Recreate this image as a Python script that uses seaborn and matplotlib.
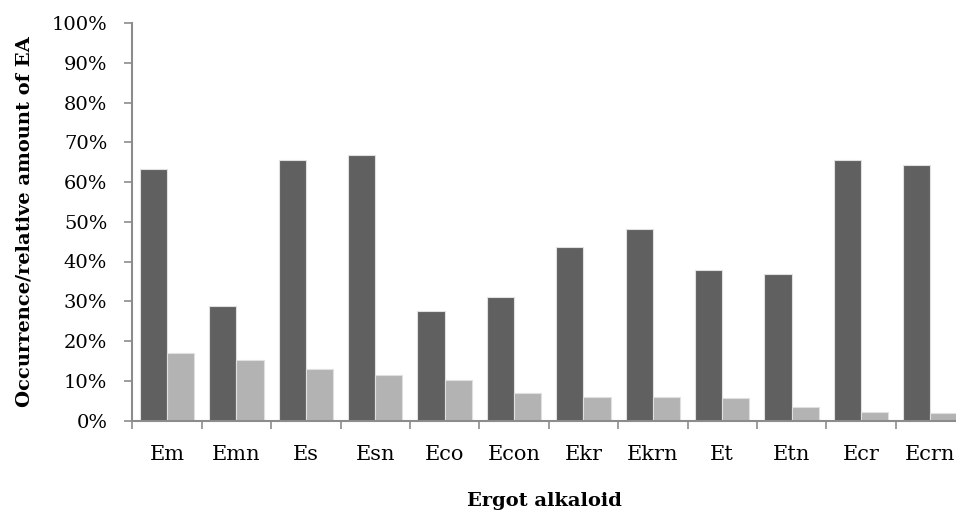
import numpy as np
import pandas as pd
import matplotlib
matplotlib.use("Agg")
import matplotlib.pyplot as plt
import seaborn as sns
from matplotlib.ticker import PercentFormatter, FixedLocator

alkaloids = ["Em", "Emn", "Es", "Esn", "Eco", "Econ", "Ekr", "Ekrn", "Et", "Etn", "Ecr", "Ecrn"]
occurrence = [63.2, 28.7, 65.5, 66.7, 27.5, 31.0, 43.6, 48.2, 37.9, 36.8, 65.5, 64.4]
relative_amount = [16.9, 15.2, 13.0, 11.4, 10.2, 7.0, 6.0, 5.8, 5.6, 3.3, 2.1, 1.8]

df = pd.DataFrame({
    "alkaloid": alkaloids * 2,
    "value": occurrence + relative_amount,
    "series": ["Occurrence"] * len(alkaloids) + ["Relative amount"] * len(alkaloids),
})

sns.set_style("white")
plt.rcParams['font.family'] = ['DejaVu Serif']
plt.rcParams['text.color'] = 'black'
plt.rcParams['axes.labelcolor'] = 'black'
plt.rcParams['xtick.labelcolor'] = 'black'
plt.rcParams['ytick.labelcolor'] = 'black'

fig = plt.figure(figsize=(9.56, 5.14), dpi=100)
ax = fig.add_axes([132.3 / 956, 93.5 / 514, (956 - 132.3) / 956, 397.5 / 514])

sns.barplot(data=df, x="alkaloid", y="value", hue="series", order=alkaloids,
            palette=["#606060", "#b3b3b3"], width=0.784, edgecolor="#e0e0e0",
            linewidth=0.8, legend=False, ax=ax)

ax.set_ylim(0, 100)
ax.set_xlim(-0.5, -0.5 + (956 - 132.3) / 69.4)
ax.yaxis.set_major_formatter(PercentFormatter(decimals=0))
ax.set_yticks(np.arange(0, 101, 10))

ax.xaxis.set_minor_locator(FixedLocator(np.arange(-0.5, 12, 1)))
ax.tick_params(axis="x", which="major", bottom=True, length=0, pad=18, labelsize=15)
ax.tick_params(axis="x", which="minor", bottom=True, length=6, width=1.2,
               color="#8c8c8c", direction="out")
ax.tick_params(axis="y", left=True, length=6, width=1.2, color="#8c8c8c",
               direction="out", labelsize=14, pad=12)

for side in ["top", "right"]:
    ax.spines[side].set_visible(False)
for side in ["left", "bottom"]:
    ax.spines[side].set_color("#8c8c8c")
    ax.spines[side].set_linewidth(1.5)

ax.set_xlabel("Ergot alkaloid", fontsize=14, fontweight="bold", labelpad=20)
ax.set_ylabel("Occurrence/relative amount of EA", fontsize=14, fontweight="bold", labelpad=13)

fig.savefig("out.png", dpi=100)
